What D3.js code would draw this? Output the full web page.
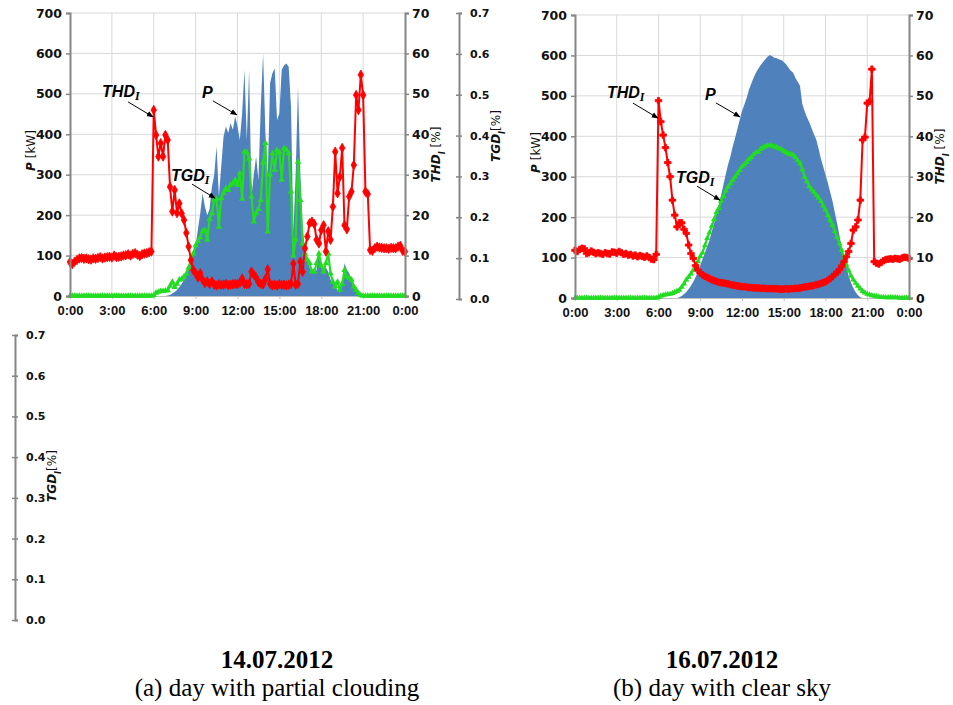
<!DOCTYPE html>
<html>
<head>
<meta charset="utf-8">
<script src="https://cdn.jsdelivr.net/npm/d3@7"></script>
<style>
  body { margin: 0; background: #fff; }
  svg { display: block; }
</style>
</head>
<body>
<div id="wrapper"></div>
<script>

// Data: one reading every 10 minutes, 0:00 .. 24:00 (145 points)
const hours = d3.range(0, 145).map(i => i / 6)

const timeTicks = [0, 3, 6, 9, 12, 15, 18, 21, 24]
const timeLabels = ["0:00", "3:00", "6:00", "9:00", "12:00", "15:00", "18:00", "21:00", "0:00"]
const pTicks = [0, 100, 200, 300, 400, 500, 600, 700]
const thdTicks = [0, 10, 20, 30, 40, 50, 60, 70]
const tgdTicks = [0, 0.1, 0.2, 0.3, 0.4, 0.5, 0.6, 0.7]

// 14.07.2012 - partial clouding
const pDayA = [
    0, 0, 0, 0, 0, 0, 0, 0, 0, 0, 0, 0,
    0, 0, 0, 0, 0, 0, 0, 0, 0, 0, 0, 0,
    0, 0, 0, 0, 0, 0, 0, 0, 0, 0, 0, 0,
    0, 0, 0, 0, 0, 0, 1, 3, 6, 10, 15, 22,
    30, 40, 52, 65, 80, 105, 125, 165, 205, 254, 221, 200,
    215, 270, 300, 370, 246, 320, 394, 419, 403, 427, 411, 444,
    420, 386, 452, 559, 386, 559, 246, 300, 345, 287, 468, 600,
    402, 295, 526, 551, 563, 435, 452, 559, 571, 575, 567, 468,
    155, 300, 518, 304, 171, 110, 89, 70, 56, 60, 64, 110,
    80, 64, 70, 60, 40, 30, 23, 15, 10, 30, 81, 65,
    56, 40, 30, 20, 10, 5, 0, 0, 0, 0, 0, 0,
    0, 0, 0, 0, 0, 0, 0, 0, 0, 0, 0, 0,
    0
]
const thdDayA = [
    8.4, 7.9, 8.5, 8.9, 9.3, 9.4, 9.2, 9.3, 9.1, 9.0, 9.3, 9.2,
    9.4, 9.6, 9.3, 9.5, 9.6, 9.7, 9.5, 10.0, 9.6, 9.7, 9.8, 10.0,
    10.1, 10.3, 10.0, 10.4, 10.6, 10.2, 9.9, 10.3, 10.5, 10.6, 10.8, 11.0,
    46.0, 39.8, 34.5, 37.8, 34.5, 39.8, 38.6, 27.0, 20.9, 26.2, 20.5, 22.9,
    20.4, 18.8, 15.6, 12.2, 8.9, 6.4, 5.6, 4.6, 5.6, 4.0, 3.2, 3.6,
    3.0, 3.6, 2.8, 2.6, 2.9, 2.7, 2.8, 3.0, 2.7, 2.8, 2.9, 3.0,
    2.9, 3.3, 4.3, 3.0, 2.9, 3.0, 6.0, 5.3, 4.6, 3.4, 3.0, 2.9,
    4.2, 6.6, 3.0, 2.6, 2.8, 2.6, 2.9, 2.7, 2.8, 2.6, 2.8, 3.0,
    8.0, 2.8, 3.0, 8.5, 6.0, 11.8, 14.7, 18.0, 18.4, 17.8, 13.9, 13.0,
    16.3, 17.5, 11.0, 16.0, 13.9, 22.1, 35.7, 25.4, 29.5, 36.6, 17.5, 16.5,
    24.6, 25.8, 32.4, 49.7, 46.0, 54.7, 49.7, 25.8, 25.2, 11.4, 11.2, 11.8,
    12.2, 12.0, 11.9, 11.8, 11.8, 11.7, 11.9, 11.8, 11.8, 12.2, 12.4, 11.2,
    11.0
]
const tgdDayA = [
    0, 0, 0, 0, 0, 0, 0, 0, 0, 0, 0, 0,
    0, 0, 0, 0, 0, 0, 0, 0, 0, 0, 0, 0,
    0, 0, 0, 0, 0, 0, 0, 0, 0, 0, 0, 0,
    0.002, 0.008, 0.010, 0.012, 0.012, 0.013, 0.014, 0.025, 0.035, 0.022, 0.030, 0.040,
    0.042, 0.048, 0.055, 0.070, 0.090, 0.105, 0.125, 0.135, 0.145, 0.160, 0.163, 0.139,
    0.190, 0.205, 0.237, 0.240, 0.171, 0.242, 0.255, 0.266, 0.262, 0.275, 0.279, 0.287,
    0.275, 0.303, 0.240, 0.357, 0.355, 0.340, 0.246, 0.184, 0.205, 0.215, 0.237, 0.330,
    0.378, 0.159, 0.300, 0.353, 0.312, 0.361, 0.355, 0.287, 0.365, 0.362, 0.353, 0.258,
    0.100, 0.139, 0.332, 0.237, 0.130, 0.105, 0.090, 0.081, 0.060, 0.060, 0.081, 0.105,
    0.075, 0.060, 0.081, 0.105, 0.056, 0.035, 0.023, 0.035, 0.015, 0.030, 0.064, 0.048,
    0.045, 0.040, 0.023, 0.015, 0.007, 0.002, 0, 0, 0, 0, 0, 0,
    0, 0, 0, 0, 0, 0, 0, 0, 0, 0, 0, 0,
    0
]

// 16.07.2012 - clear sky
const pDayB = [
    0, 0, 0, 0, 0, 0, 0, 0, 0, 0, 0, 0,
    0, 0, 0, 0, 0, 0, 0, 0, 0, 0, 0, 0,
    0, 0, 0, 0, 0, 0, 0, 0, 0, 0, 0, 0,
    0, 0, 0, 0, 0, 0, 0, 0, 0, 2, 5, 10,
    15, 22, 30, 40, 52, 65, 80, 97, 112, 128, 143, 165,
    185, 210, 232, 255, 280, 306, 330, 350, 375, 395, 418, 440,
    462, 478, 495, 515, 530, 545, 557, 567, 576, 583, 590, 597,
    601, 598, 594, 593, 590, 589, 584, 578, 570, 562, 558, 545,
    535, 525, 480, 462, 447, 435, 420, 405, 392, 370, 345, 325,
    305, 285, 262, 240, 212, 185, 155, 125, 100, 77, 55, 38,
    25, 14, 7, 2, 0, 0, 0, 0, 0, 0, 0, 0,
    0, 0, 0, 0, 0, 0, 0, 0, 0, 0, 0, 0,
    0
]
const thdDayB = [
    11.8, 11.5, 12.0, 12.3, 12.2, 11.0, 11.2, 11.6, 11.3, 11.0, 11.2, 11.0,
    10.8, 11.2, 11.0, 10.9, 11.4, 11.3, 11.1, 11.5, 11.2, 10.8, 11.0, 10.6,
    10.8, 10.4, 10.6, 10.2, 10.5, 10.3, 10.1, 10.4, 10.0, 9.6, 9.5, 10.8,
    48.8, 43.6, 40.3, 37.2, 33.5, 30.0, 24.2, 20.5, 17.6, 18.6, 18.6, 17.0,
    16.0, 13.1, 11.0, 9.8, 8.0, 6.9, 6.2, 5.7, 5.4, 5.1, 4.8, 4.5,
    4.3, 4.1, 3.9, 3.8, 3.7, 3.6, 3.5, 3.3, 3.2, 3.1, 3.0, 2.9,
    2.8, 2.8, 2.7, 2.6, 2.6, 2.5, 2.5, 2.5, 2.4, 2.4, 2.4, 2.3,
    2.3, 2.3, 2.3, 2.3, 2.2, 2.2, 2.2, 2.3, 2.2, 2.3, 2.3, 2.4,
    2.4, 2.5, 2.6, 2.7, 2.8, 2.9, 3.0, 3.1, 3.3, 3.4, 3.6, 3.8,
    4.0, 4.4, 4.8, 5.3, 5.8, 6.4, 7.0, 7.9, 9.0, 10.2, 11.5, 13.5,
    16.8, 17.6, 19.3, 24.2, 39.1, 39.8, 48.2, 48.6, 56.6, 9.0, 8.6, 8.4,
    8.8, 9.2, 9.5, 9.6, 9.7, 9.6, 9.8, 9.7, 9.6, 9.9, 10.1, 10.0,
    9.8
]
const tgdDayB = [
    0, 0, 0, 0, 0, 0, 0, 0, 0, 0, 0, 0,
    0, 0, 0, 0, 0, 0, 0, 0, 0, 0, 0, 0,
    0, 0, 0, 0, 0, 0, 0, 0, 0, 0, 0, 0,
    0.002, 0.005, 0.007, 0.008, 0.009, 0.010, 0.012, 0.014, 0.017, 0.020, 0.027, 0.035,
    0.045, 0.052, 0.060, 0.069, 0.080, 0.090, 0.103, 0.112, 0.130, 0.148, 0.162, 0.178,
    0.195, 0.212, 0.222, 0.240, 0.252, 0.265, 0.275, 0.283, 0.292, 0.300, 0.308, 0.316,
    0.325, 0.330, 0.336, 0.343, 0.348, 0.355, 0.360, 0.362, 0.368, 0.372, 0.375, 0.377,
    0.378, 0.376, 0.374, 0.372, 0.370, 0.368, 0.363, 0.360, 0.357, 0.355, 0.354, 0.348,
    0.340, 0.333, 0.318, 0.300, 0.288, 0.276, 0.268, 0.262, 0.255, 0.248, 0.240, 0.228,
    0.218, 0.205, 0.192, 0.180, 0.165, 0.150, 0.135, 0.118, 0.100, 0.082, 0.068, 0.055,
    0.045, 0.037, 0.030, 0.023, 0.017, 0.013, 0.010, 0.008, 0.006, 0.005, 0.004, 0.003,
    0.002, 0.002, 0.001, 0.001, 0.001, 0.001, 0.001, 0.001, 0, 0, 0, 0,
    0
]

const blue = "#4f81bd"
const red = "#ff0000"
const green = "#22dd22"
const axisGray = "#868686"
const gridGray = "#d9d9d9"

const wrapper = d3.select("#wrapper")
    .append("svg")
    .attr("width", 953)
    .attr("height", 705)

function rotatedLabel(g, x, y, parts) {
    const t = g.append("text")
        .attr("transform", `translate(${x},${y}) rotate(-90)`)
        .attr("text-anchor", "middle")
        .attr("font-family", "DejaVu Sans")
        .attr("font-size", 12)
        .attr("fill", "#111")
    parts.forEach(p => {
        const s = t.append("tspan").text(p.t)
        if (p.italic) s.attr("font-style", "italic").attr("font-weight", "bold")
        if (p.sub) s.attr("baseline-shift", "sub").attr("font-size", 8)
    })
}

function annotate(g, tipX, tipY, textX, textY, fromX, fromY, main, sub) {
    const t = g.append("text")
        .attr("x", textX)
        .attr("y", textY)
        .attr("font-family", "Liberation Sans")
        .attr("font-weight", "bold")
        .attr("font-style", "italic")
        .attr("font-size", 16)
        .attr("fill", "#000")
    t.append("tspan").text(main)
    if (sub) t.append("tspan").text(sub)
        .attr("font-family", "Liberation Serif")
        .attr("font-size", 12)
        .attr("dy", 3)
    g.append("line")
        .attr("x1", fromX).attr("y1", fromY)
        .attr("x2", tipX).attr("y2", tipY)
        .attr("stroke", "#000")
        .attr("stroke-width", 1)
        .attr("marker-end", "url(#arrow)")
}

wrapper.append("defs").append("marker")
    .attr("id", "arrow")
    .attr("viewBox", "0 0 10 10")
    .attr("refX", 9).attr("refY", 5)
    .attr("markerWidth", 7).attr("markerHeight", 7)
    .attr("orient", "auto")
  .append("path")
    .attr("d", "M0,1 L10,5 L0,9 z")
    .attr("fill", "#000")

function drawDay(cfg) {
    const bounds = wrapper.append("g")

    const xScale = d3.scaleLinear().domain([0, 24]).range([cfg.left, cfg.right])
    const pScale = d3.scaleLinear().domain([0, 700]).range([cfg.bottom, cfg.top])
    const thdScale = d3.scaleLinear().domain([0, 70]).range([cfg.bottom, cfg.top])
    const tgdScale = d3.scaleLinear().domain([0, 0.7]).range([cfg.bottom, cfg.top])

    // gridlines
    bounds.append("g").selectAll("line")
        .data(pTicks.slice(1))
        .join("line")
            .attr("x1", cfg.left).attr("x2", cfg.right)
            .attr("y1", d => pScale(d)).attr("y2", d => pScale(d))
            .attr("stroke", gridGray)
    bounds.append("g").selectAll("line")
        .data(timeTicks.slice(1, -1))
        .join("line")
            .attr("x1", d => xScale(d)).attr("x2", d => xScale(d))
            .attr("y1", cfg.top).attr("y2", cfg.bottom)
            .attr("stroke", gridGray)

    // P area
    const areaGenerator = d3.area()
        .x((d, i) => xScale(hours[i]))
        .y0(pScale(0))
        .y1(d => pScale(d))
    bounds.append("path")
        .datum(cfg.p)
        .attr("d", areaGenerator)
        .attr("fill", blue)

    // x axis
    const xAxisGenerator = d3.axisBottom(xScale)
        .tickValues(timeTicks)
        .tickFormat((d, i) => timeLabels[i])
        .tickSize(3)
        .tickPadding(7)
    const xAxis = bounds.append("g")
        .attr("transform", `translate(0,${cfg.bottom})`)
        .call(xAxisGenerator)
    xAxis.select(".domain").attr("stroke", "#bfbfbf")
    xAxis.selectAll(".tick line").attr("stroke", "#bfbfbf")
    xAxis.selectAll("text")
        .attr("font-family", "Liberation Sans")
        .attr("font-weight", "bold")
        .attr("font-size", 13)
        .attr("fill", "#111")

    // TGD line
    const tgdLine = d3.line()
        .x((d, i) => xScale(hours[i]))
        .y(d => tgdScale(d))
    bounds.append("path")
        .datum(cfg.tgd)
        .attr("d", tgdLine)
        .attr("fill", "none")
        .attr("stroke", green)
        .attr("stroke-width", 2.2)
    bounds.append("g").selectAll("path")
        .data(cfg.tgd)
        .join("path")
            .attr("transform", (d, i) => `translate(${xScale(hours[i])},${tgdScale(d)})`)
            .attr("d", d3.symbol(d3.symbolTriangle, cfg.markerSize))
            .attr("fill", green)

    // THD line
    const thdLine = d3.line()
        .x((d, i) => xScale(hours[i]))
        .y(d => thdScale(d))
    bounds.append("path")
        .datum(cfg.thd)
        .attr("d", thdLine)
        .attr("fill", "none")
        .attr("stroke", red)
        .attr("stroke-width", 2)
    bounds.append("g").selectAll("path")
        .data(cfg.thd)
        .join("path")
            .attr("transform", (d, i) => `translate(${xScale(hours[i])},${thdScale(d)})`)
            .attr("d", d3.symbol(cfg.thdSymbol, cfg.markerSize + 8))
            .attr("fill", red)
            .attr("stroke", red)
            .attr("stroke-width", 0.8)

    // P axis (left)
    const pAxis = bounds.append("g")
        .attr("transform", `translate(${cfg.left},0)`)
        .call(d3.axisLeft(pScale).tickValues(pTicks).tickSize(4).tickPadding(4))
    // THD axis (right)
    const thdAxis = bounds.append("g")
        .attr("transform", `translate(${cfg.right},0)`)
        .call(d3.axisRight(thdScale).tickValues(thdTicks).tickSize(4).tickPadding(3))
    ;[pAxis, thdAxis].forEach(a => {
        a.select(".domain").attr("stroke", axisGray).attr("stroke-width", 2)
        a.selectAll(".tick line").attr("stroke", axisGray).attr("stroke-width", 1.5)
        a.selectAll("text")
            .attr("font-family", "DejaVu Sans")
            .attr("font-weight", "bold")
            .attr("font-size", 12.5)
            .attr("fill", "#111")
    })

    // TGD axis (drawn on its own)
    const tgdAxisScale = d3.scaleLinear().domain([0, 0.7])
        .range([cfg.tgdAxis.bottom, cfg.tgdAxis.top])
    const tgdAxis = bounds.append("g")
        .attr("transform", `translate(${cfg.tgdAxis.x},0)`)
        .call(d3.axisRight(tgdAxisScale).tickValues(tgdTicks)
            .tickFormat(d3.format(".1f")).tickSize(3).tickPadding(8))
    tgdAxis.select(".domain").attr("stroke", axisGray).attr("stroke-width", 2)
    tgdAxis.selectAll(".tick line").attr("stroke", axisGray).attr("stroke-width", 1.5)
        .attr("x1", -3)
    tgdAxis.selectAll("text")
        .attr("font-family", "DejaVu Sans")
        .attr("font-weight", "bold")
        .attr("font-size", 11)
        .attr("fill", "#111")

    // axis titles
    const midY = (cfg.top + cfg.bottom) / 2
    rotatedLabel(bounds, cfg.left - 35, midY - 4, [{t: "P", italic: true}, {t: " [kW]"}])
    rotatedLabel(bounds, cfg.right + 35, midY,
        [{t: "THD", italic: true}, {t: "I", italic: true, sub: true}, {t: " [%]"}])
    rotatedLabel(bounds, cfg.tgdAxis.labelX, cfg.tgdAxis.labelY,
        [{t: "TGD", italic: true}, {t: "I", italic: true, sub: true}, {t: "[%]"}])

    // annotations (arrow tips sit on the curves)
    const thdTip = [xScale(cfg.notes.thd[0]), thdScale(cfg.notes.thd[1])]
    annotate(bounds, thdTip[0], thdTip[1], thdTip[0] - 51, thdTip[1] - 20,
        thdTip[0] - 25, thdTip[1] - 15, "THD", "I")
    const pTip = [xScale(cfg.notes.p[0]), pScale(cfg.notes.p[1])]
    annotate(bounds, pTip[0], pTip[1], pTip[0] - 35, pTip[1] - 17,
        pTip[0] - 24, pTip[1] - 14, "P")
    const tgdTip = [xScale(cfg.notes.tgd[0]), tgdScale(cfg.notes.tgd[1])]
    annotate(bounds, tgdTip[0], tgdTip[1], tgdTip[0] - 44, tgdTip[1] - 17,
        tgdTip[0] - 23, tgdTip[1] - 14, "TGD", "I")

    // captions
    wrapper.append("text")
        .attr("x", cfg.captionX).attr("y", 668)
        .attr("text-anchor", "middle")
        .attr("font-family", "Liberation Serif")
        .attr("font-weight", "bold")
        .attr("font-size", 25)
        .text(cfg.date)
    wrapper.append("text")
        .attr("x", cfg.captionX).attr("y", 696)
        .attr("text-anchor", "middle")
        .attr("font-family", "Liberation Serif")
        .attr("font-size", 25)
        .text(cfg.caption)
}

drawDay({
    left: 70, right: 405, top: 13, bottom: 296,
    p: pDayA, thd: thdDayA, tgd: tgdDayA,
    thdSymbol: d3.symbolDiamond, markerSize: 18,
    tgdAxis: {x: 459, top: 13, bottom: 299, labelX: 500, labelY: 136},
    notes: {thd: [5.95, 44.3], p: [11.96, 448], tgd: [10.39, 0.242]},
    captionX: 277, date: "14.07.2012", caption: "(a) day with partial clouding"
})

drawDay({
    left: 575, right: 909, top: 15, bottom: 298,
    p: pDayB, thd: thdDayB, tgd: tgdDayB,
    thdSymbol: d3.symbolCross, markerSize: 16,
    tgdAxis: {x: 15, top: 335, bottom: 620, labelX: 56, labelY: 476},
    notes: {thd: [5.96, 44.5], p: [11.85, 448], tgd: [10.42, 0.242]},
    captionX: 722, date: "16.07.2012", caption: "(b) day with clear sky"
})

</script>
</body>
</html>
